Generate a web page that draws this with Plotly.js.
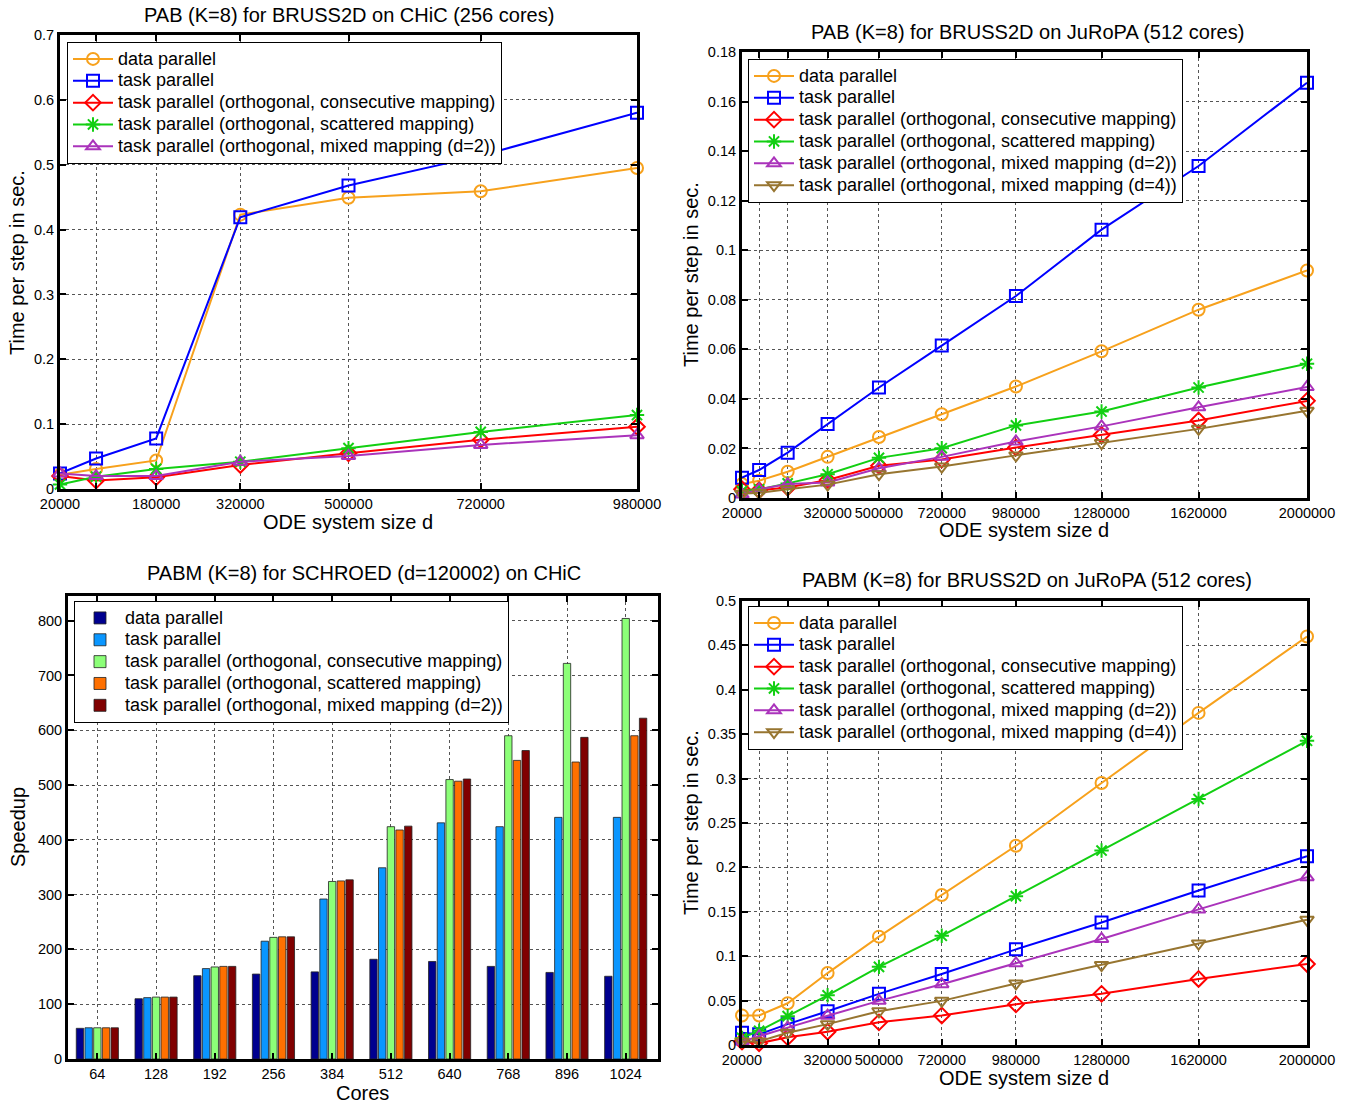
<!DOCTYPE html>
<html>
<head>
<meta charset="utf-8">
<script src="https://cdn.plot.ly/plotly-3.0.1.min.js"></script>
<style>html,body{margin:0;padding:0;background:#fff;}#chart{width:1349px;height:1106px;}</style>
</head>
<body>
<div id="chart"></div>
<script>
// ---------- DATA ----------
// Top-left: PAB (K=8) for BRUSS2D on CHiC (256 cores)
const tlSizes = [20000, 80000, 180000, 320000, 500000, 720000, 980000];
const tlTickVals = [20000, 80000, 180000, 320000, 500000, 720000, 980000];
const tlTickText = ["20000", "", "180000", "320000", "500000", "720000", "980000"];
const tlDataParallel = [0.022, 0.031, 0.044, 0.423, 0.449, 0.459, 0.495];
const tlTaskParallel = [0.024, 0.047, 0.078, 0.419, 0.468, 0.514, 0.580];
const tlConsecutive  = [0.020, 0.013, 0.018, 0.037, 0.055, 0.076, 0.096];
const tlScattered    = [0.007, 0.019, 0.031, 0.042, 0.063, 0.088, 0.114];
const tlMixed2       = [0.024, 0.020, 0.020, 0.042, 0.051, 0.068, 0.083];

// Top-right: PAB (K=8) for BRUSS2D on JuRoPA (512 cores)
const jSizes = [20000, 80000, 180000, 320000, 500000, 720000, 980000, 1280000, 1620000, 2000000];
const jTickVals = [20000, 80000, 180000, 320000, 500000, 720000, 980000, 1280000, 1620000, 2000000];
const jTickText = ["20000", "", "", "320000", "500000", "720000", "980000", "1280000", "1620000", "2000000"];
const trDataParallel = [0.0056, 0.0070, 0.0106, 0.0166, 0.0246, 0.0338, 0.0450, 0.0592, 0.0760, 0.0918];
const trTaskParallel = [0.0082, 0.0113, 0.0183, 0.0299, 0.0446, 0.0615, 0.0815, 0.1083, 0.1340, 0.1676];
const trConsecutive  = [0.0035, 0.0031, 0.0042, 0.0073, 0.0130, 0.0155, 0.0204, 0.0254, 0.0313, 0.0392];
const trScattered    = [0.0028, 0.0035, 0.0059, 0.0096, 0.0162, 0.0201, 0.0293, 0.0349, 0.0446, 0.0542];
const trMixed2       = [0.0014, 0.0035, 0.0056, 0.0063, 0.0120, 0.0166, 0.0228, 0.0289, 0.0366, 0.0448];
const trMixed4       = [0.0017, 0.0021, 0.0035, 0.0054, 0.0096, 0.0127, 0.0172, 0.0222, 0.0279, 0.0352];

// Bottom-left: PABM (K=8) for SCHROED (d=120002) on CHiC
const cores = ["64", "128", "192", "256", "384", "512", "640", "768", "896", "1024"];
const blDataParallel = [56, 110, 152, 155, 159, 182, 178, 169, 158, 151];
const blTaskParallel = [57, 112, 165, 215, 292, 349, 431, 424, 441, 441];
const blConsecutive  = [57, 113, 168, 222, 324, 424, 510, 590, 722, 804];
const blScattered    = [57, 113, 169, 223, 325, 418, 507, 545, 542, 590];
const blMixed2       = [57, 113, 169, 223, 327, 425, 511, 563, 587, 622];

// Bottom-right: PABM (K=8) for BRUSS2D on JuRoPA (512 cores)
const brDataParallel = [0.0333, 0.0333, 0.047, 0.081, 0.122, 0.169, 0.2244, 0.295, 0.374, 0.460];
const brTaskParallel = [0.0137, 0.012, 0.0235, 0.038, 0.0576, 0.080, 0.1077, 0.138, 0.174, 0.2126];
const brConsecutive  = [0.004, 0.002, 0.0086, 0.0149, 0.0255, 0.0333, 0.0458, 0.0576, 0.0744, 0.0912];
const brScattered    = [0.008, 0.016, 0.0325, 0.056, 0.088, 0.123, 0.1676, 0.219, 0.277, 0.3426];
const brMixed2       = [0.004, 0.010, 0.0196, 0.033, 0.0497, 0.0685, 0.092, 0.1194, 0.1527, 0.189];
const brMixed4       = [0.004, 0.004, 0.0137, 0.0235, 0.038, 0.0497, 0.0693, 0.090, 0.1143, 0.141];

const names = [
  "data parallel",
  "task parallel",
  "task parallel (orthogonal, consecutive mapping)",
  "task parallel (orthogonal, scattered mapping)",
  "task parallel (orthogonal, mixed mapping (d=2))",
  "task parallel (orthogonal, mixed mapping (d=4))"
];

// ---------- STYLE ----------
const FONT = "Liberation Sans, Arial, Helvetica, sans-serif";
const lineColors = ["#F7A11C", "#0000FF", "#FF0000", "#12CF12", "#AA33BB", "#977530"];
const symbols = ["circle-open", "square-open", "diamond-open", "asterisk-open", "triangle-up-open", "triangle-down-open"];
const barColors = ["#00008F", "#0A96FF", "#8CFF78", "#FF7000", "#800000"];
const legendLabel = n => '<span style="font-size:18px">' + n + '</span>';

function lineTrace(x, y, i, xa, ya, leg) {
  return {
    type: "scatter", mode: "lines+markers", x: x, y: y, name: legendLabel(names[i]),
    xaxis: xa, yaxis: ya, legend: leg,
    line: {color: lineColors[i], width: 2},
    marker: {symbol: symbols[i], size: 12, color: lineColors[i], line: {color: lineColors[i], width: 2}},
    cliponaxis: false
  };
}
function barTrace(y, i) {
  return {
    type: "bar", x: cores, y: y, name: legendLabel(names[i]), xaxis: "x3", yaxis: "y3", legend: "legend3",
    marker: {color: barColors[i], line: {color: "#222", width: 0.8}}
  };
}

const traces = [];
[tlDataParallel, tlTaskParallel, tlConsecutive, tlScattered, tlMixed2].forEach((s, i) =>
  traces.push(lineTrace(tlSizes, s, i, "x", "y", "legend")));
[trDataParallel, trTaskParallel, trConsecutive, trScattered, trMixed2, trMixed4].forEach((s, i) =>
  traces.push(lineTrace(jSizes, s, i, "x2", "y2", "legend2")));
[blDataParallel, blTaskParallel, blConsecutive, blScattered, blMixed2].forEach((s, i) =>
  traces.push(barTrace(s, i)));
[brDataParallel, brTaskParallel, brConsecutive, brScattered, brMixed2, brMixed4].forEach((s, i) =>
  traces.push(lineTrace(jSizes, s, i, "x4", "y4", "legend4")));

const W = 1349, H = 1106;
const px = v => v / W;
const py = v => 1 - v / H;

function axisBase(extra) {
  return Object.assign({
    showline: true, linecolor: "#000", linewidth: 3, mirror: "ticks",
    ticks: "inside", ticklen: 6, tickwidth: 2, tickcolor: "#000",
    showgrid: true, gridcolor: "#555", griddash: "dot", gridwidth: 1,
    zeroline: false, tickfont: {family: FONT, size: 14.5, color: "#000"},
    automargin: false
  }, extra);
}

function legendCfg(x, y) {
  return {
    x: px(x), y: py(y), xanchor: "left", yanchor: "top",
    bgcolor: "#fff", bordercolor: "#000", borderwidth: 1,
    font: {family: FONT, size: 14.5, color: "#000"},
    tracegroupgap: 0, itemwidth: 40
  };
}

function ann(text, x, y, size, angle) {
  return {
    text: text, x: px(x), y: py(y), xref: "paper", yref: "paper",
    xanchor: "center", yanchor: "middle", showarrow: false,
    textangle: angle || 0, font: {family: FONT, size: size, color: "#000"}
  };
}

const layout = {
  width: W, height: H,
  margin: {l: 0, r: 0, t: 0, b: 0},
  paper_bgcolor: "#fff", plot_bgcolor: "#fff",
  font: {family: FONT, color: "#000"},
  showlegend: true,
  barmode: "group", bargap: 0.26, bargroupgap: 0.15,
  xaxis: axisBase({domain: [px(60), px(637)], anchor: "y", range: [20000, 980000],
    tickmode: "array", tickvals: tlTickVals, ticktext: tlTickText}),
  yaxis: axisBase({domain: [py(489), py(35)], anchor: "x", range: [0, 0.7], dtick: 0.1}),
  xaxis2: axisBase({domain: [px(742), px(1307)], anchor: "y2", range: [20000, 2000000],
    tickmode: "array", tickvals: jTickVals, ticktext: jTickText}),
  yaxis2: axisBase({domain: [py(498), py(52)], anchor: "x2", range: [0, 0.18], dtick: 0.02}),
  xaxis3: axisBase({domain: [px(68), px(658)], anchor: "y3", type: "category", range: [-0.5, 9.55]}),
  yaxis3: axisBase({domain: [py(1059), py(596)], anchor: "x3", range: [0, 845], dtick: 100}),
  xaxis4: axisBase({domain: [px(742), px(1307)], anchor: "y4", range: [20000, 2000000],
    tickmode: "array", tickvals: jTickVals, ticktext: jTickText}),
  yaxis4: axisBase({domain: [py(1045), py(601)], anchor: "x4", range: [0, 0.5], dtick: 0.05}),
  legend: legendCfg(67, 42),
  legend2: legendCfg(748, 59),
  legend3: legendCfg(74, 601),
  legend4: legendCfg(748, 606),
  annotations: [
    ann("PAB (K=8) for BRUSS2D on CHiC (256 cores)", 349, 15, 20),
    ann("PAB (K=8) for BRUSS2D on JuRoPA (512 cores)", 1027, 32, 20),
    ann("PABM (K=8) for SCHROED (d=120002) on CHiC", 364, 573, 20),
    ann("PABM (K=8) for BRUSS2D on JuRoPA (512 cores)", 1027, 580, 20),
    ann("ODE system size d", 348, 522, 20),
    ann("ODE system size d", 1024, 530, 20),
    ann("Cores", 362, 1093, 20),
    ann("ODE system size d", 1024, 1078, 20),
    ann("Time per step in sec.", 17, 263, 20, -90),
    ann("Time per step in sec.", 691, 275, 20, -90),
    ann("Speedup", 18, 827, 20, -90),
    ann("Time per step in sec.", 691, 823, 20, -90)
  ]
};

Plotly.newPlot("chart", traces, layout, {staticPlot: true, displayModeBar: false});
</script>
</body>
</html>
